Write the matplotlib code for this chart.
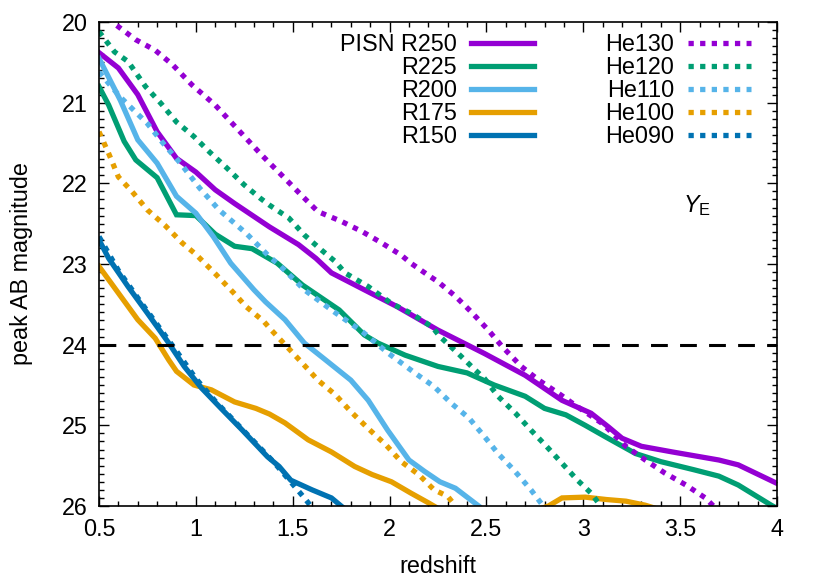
import numpy as np
import matplotlib
matplotlib.use("Agg")
import matplotlib.pyplot as plt
from matplotlib.ticker import MultipleLocator

plt.rcParams["font.family"] = ["Liberation Sans", "DejaVu Sans"]
plt.rcParams["mathtext.fontset"] = "custom"
plt.rcParams["mathtext.rm"] = "Liberation Sans"
plt.rcParams["mathtext.it"] = "Liberation Sans:italic"

# ---- data (redshift, peak AB magnitude) ----
r250_z = [0.5, 0.6, 0.7, 0.8, 0.9, 1.0, 1.1, 1.2, 1.38, 1.53, 1.62, 1.7, 1.87, 2.04, 2.25,
          2.49, 2.7, 2.89, 3.04, 3.13, 3.2, 3.3, 3.46, 3.7, 3.8, 4.0]
r250_m = [20.38, 20.57, 20.90, 21.36, 21.69, 21.86, 22.08, 22.25, 22.54, 22.76, 22.93, 23.11,
          23.32, 23.53, 23.82, 24.11, 24.38, 24.69, 24.85, 25.02, 25.16, 25.26, 25.33, 25.43,
          25.49, 25.72]

r225_z = [0.5, 0.55, 0.63, 0.69, 0.8, 0.9, 1.0, 1.1, 1.2, 1.29, 1.42, 1.55, 1.74, 1.87, 1.94,
          2.08, 2.25, 2.4, 2.54, 2.7, 2.8, 2.91, 3.01, 3.12, 3.27, 3.4, 3.57, 3.7, 3.8, 3.97, 4.0]
r225_m = [20.80, 21.03, 21.48, 21.71, 21.93, 22.39, 22.40, 22.63, 22.78, 22.81, 22.99, 23.26,
          23.57, 23.88, 23.98, 24.13, 24.27, 24.35, 24.50, 24.64, 24.79, 24.87, 25.00, 25.15,
          25.35, 25.45, 25.55, 25.63, 25.74, 25.99, 26.03]

r200_z = [0.5, 0.61, 0.7, 0.8, 0.9, 1.0, 1.09, 1.18, 1.3, 1.36, 1.46, 1.56, 1.67, 1.8, 1.89,
          1.99, 2.1, 2.18, 2.26, 2.34, 2.46]
r200_m = [20.45, 20.97, 21.46, 21.75, 22.16, 22.37, 22.66, 22.99, 23.32, 23.47, 23.69, 23.98,
          24.19, 24.44, 24.69, 25.06, 25.43, 25.57, 25.70, 25.78, 26.00]

r175_z = [0.5, 0.6, 0.7, 0.79, 0.86, 0.9, 0.99, 1.08, 1.2, 1.31, 1.38, 1.46, 1.58, 1.7, 1.82,
          1.91, 2.01, 2.11, 2.2, 2.3, 2.5, 2.7, 2.82, 2.89, 3.01, 3.12, 3.22, 3.32, 3.4]
r175_m = [23.03, 23.36, 23.69, 23.92, 24.19, 24.33, 24.50, 24.56, 24.71, 24.79, 24.86, 24.97,
          25.18, 25.33, 25.51, 25.61, 25.70, 25.84, 25.96, 26.10, 26.20, 26.10, 26.00, 25.90,
          25.89, 25.92, 25.94, 25.99, 26.05]

r150_z = [0.5, 0.55, 0.65, 0.75, 0.86, 0.94, 1.03, 1.13, 1.24, 1.37, 1.43, 1.49, 1.6, 1.7, 1.76]
r150_m = [22.70, 22.93, 23.28, 23.61, 23.98, 24.27, 24.54, 24.79, 25.06, 25.39, 25.51, 25.68,
          25.80, 25.90, 26.02]

he130_z = [0.55, 0.59, 0.69, 0.79, 0.88, 0.98, 1.1, 1.22, 1.34, 1.46, 1.55, 1.63, 1.75, 1.86,
           1.96, 2.06, 2.11, 2.2, 2.25, 2.34, 2.42, 2.51, 2.58, 2.68, 2.77, 2.87, 2.97, 3.1,
           3.22, 3.32, 3.42, 3.53, 3.63, 3.68]
he130_m = [19.94, 20.04, 20.22, 20.35, 20.53, 20.78, 21.03, 21.34, 21.65, 21.94, 22.16, 22.35,
           22.47, 22.60, 22.74, 22.89, 22.99, 23.14, 23.22, 23.40, 23.59, 23.82, 24.02, 24.27,
           24.44, 24.60, 24.77, 24.98, 25.26, 25.43, 25.59, 25.74, 25.90, 26.02]

he120_z = [0.5, 0.58, 0.65, 0.74, 0.82, 0.9, 0.99, 1.07, 1.16, 1.25, 1.33, 1.38, 1.48, 1.56,
           1.65, 1.72, 1.77, 1.89, 2.01, 2.11, 2.22, 2.26, 2.35, 2.44, 2.49, 2.56, 2.65, 2.73,
           2.81, 2.89, 2.97, 3.04, 3.09]
he120_m = [20.12, 20.37, 20.49, 20.80, 21.01, 21.24, 21.42, 21.61, 21.81, 22.02, 22.18, 22.27,
           22.43, 22.64, 22.83, 22.97, 23.11, 23.28, 23.49, 23.61, 23.78, 23.90, 24.10, 24.31,
           24.42, 24.64, 24.85, 25.06, 25.26, 25.47, 25.68, 25.84, 26.00]

he110_z = [0.5, 0.61, 0.75, 0.83, 0.92, 1.02, 1.12, 1.26, 1.38, 1.43, 1.56, 1.7, 1.86, 1.99,
           2.13, 2.23, 2.32, 2.41, 2.49, 2.56, 2.64, 2.73, 2.79]
he110_m = [20.62, 20.93, 21.26, 21.50, 21.75, 22.06, 22.33, 22.62, 22.91, 23.01, 23.32, 23.57,
           23.84, 24.10, 24.35, 24.52, 24.73, 24.91, 25.14, 25.35, 25.55, 25.80, 25.99]

he100_z = [0.5, 0.55, 0.6, 0.67, 0.75, 0.84, 0.93, 1.0, 1.1, 1.2, 1.26, 1.35, 1.39, 1.48, 1.55,
           1.63, 1.72, 1.8, 1.89, 1.98, 2.06, 2.15, 2.23, 2.3, 2.34]
he100_m = [21.36, 21.63, 21.92, 22.10, 22.33, 22.52, 22.74, 22.88, 23.12, 23.37, 23.53, 23.71,
           23.82, 24.05, 24.23, 24.44, 24.62, 24.83, 25.04, 25.24, 25.45, 25.61, 25.80, 25.88,
           26.00]

he090_z = [0.5, 0.6, 0.7, 0.8, 0.9, 1.0, 1.1, 1.2, 1.3, 1.4, 1.5, 1.56, 1.6]
he090_m = [22.66, 23.08, 23.42, 23.75, 24.08, 24.42, 24.70, 24.95, 25.20, 25.45, 25.73, 25.90,
           26.02]

limit_mag = 24.0

labels_r = ["PISN R250", "R225", "R200", "R175", "R150"]
labels_he = ["He130", "He120", "He110", "He100", "He090"]
colors = ["#9400d3", "#009e73", "#56b4e9", "#e69f00", "#0072b2"]

FS = 16.8

fig = plt.figure(figsize=(8.3, 5.81), dpi=100)
ax = fig.add_axes([99 / 830, 1 - 506 / 581, 678 / 830, 484 / 581])

r_series = [(r250_z, r250_m), (r225_z, r225_m), (r200_z, r200_m), (r175_z, r175_m), (r150_z, r150_m)]
he_series = [(he130_z, he130_m), (he120_z, he120_m), (he110_z, he110_m), (he100_z, he100_m), (he090_z, he090_m)]

for (z, m), lab, c in zip(r_series, labels_r, colors):
    ax.plot(z, m, color=c, lw=3.8, label=lab, solid_joinstyle="miter")
for (z, m), lab, c in zip(he_series, labels_he, colors):
    ax.plot(z, m, color=c, lw=3.8, ls=(0, (1, 1.2)), dash_capstyle="butt", label=lab)

ax.axhline(limit_mag, color="black", lw=2.2, ls=(0, (5.5, 4.0)), zorder=5)

ax.set_xlim(0.5, 4)
ax.set_ylim(26, 20)
ax.xaxis.set_major_locator(MultipleLocator(0.5))
ax.xaxis.set_minor_locator(MultipleLocator(0.1))
ax.yaxis.set_major_locator(MultipleLocator(1))
ax.yaxis.set_minor_locator(MultipleLocator(0.1))
ax.set_xticks([0.5, 1, 1.5, 2, 2.5, 3, 3.5, 4])
ax.set_xticklabels(["0.5", "1", "1.5", "2", "2.5", "3", "3.5", "4"])
ax.tick_params(which="both", direction="in", top=True, right=True, labelsize=FS, width=1)
ax.tick_params(which="major", length=7)
ax.tick_params(which="minor", length=3.5)
ax.tick_params(axis="y", which="major", pad=8)
ax.tick_params(axis="x", which="major", pad=9)
for s in ax.spines.values():
    s.set_linewidth(1.2)

ax.set_xlabel("redshift", fontsize=FS, labelpad=10)
ax.set_ylabel("peak AB magnitude", fontsize=FS, labelpad=21)

ax.text(0.862, 0.607, r"$Y_{\rm E}$", transform=ax.transAxes, fontsize=FS)

ax.legend(ncol=2, markerfirst=False, frameon=False, fontsize=FS,
          loc="upper right", bbox_to_anchor=(751 / 830, 1 - 33 / 581),
          bbox_transform=fig.transFigure, borderpad=0, borderaxespad=0,
          handlelength=2.7, handletextpad=0.6, columnspacing=3.03, labelspacing=0.0)

fig.savefig("out.png", dpi=100)
